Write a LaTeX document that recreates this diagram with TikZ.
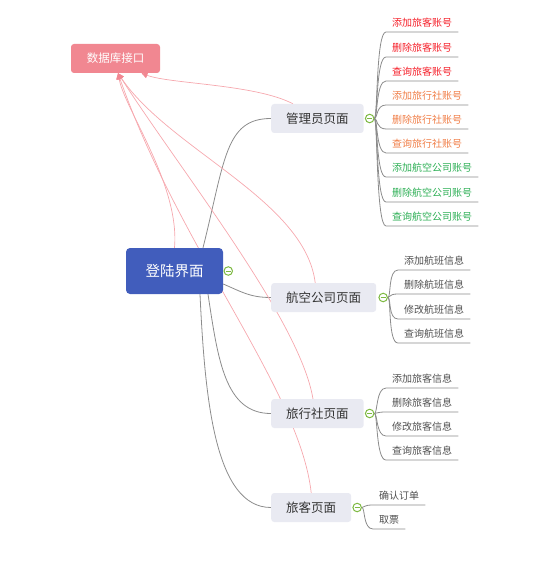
\documentclass[tikz,border=0pt]{standalone}
\usepackage{fontspec}
\setmainfont{Noto Sans CJK SC}
\usetikzlibrary{calc,positioning,backgrounds,arrows.meta}
\definecolor{dbpink}{RGB}{241,135,145}
\definecolor{linkpink}{RGB}{246,168,174}
\definecolor{rootblue}{RGB}{65,93,188}
\definecolor{pagefill}{RGB}{233,234,242}
\definecolor{pagetext}{RGB}{51,51,51}
\definecolor{leaftext}{RGB}{80,80,80}
\definecolor{branchgray}{RGB}{140,140,140}
\definecolor{hubgreen}{RGB}{125,185,65}
\definecolor{acctred}{RGB}{245,30,40}
\definecolor{acctorange}{RGB}{240,125,70}
\definecolor{acctgreen}{RGB}{45,175,85}

\tikzset{
	rootbox/.style={fill=rootblue, rounded corners=4pt, minimum width=97pt, minimum height=46pt, text=white, font=\fontsize{14.5}{16}\selectfont},
	dbbox/.style={fill=dbpink, rounded corners=3pt, minimum width=89pt, minimum height=29pt, text=white, font=\fontsize{11.5}{13}\selectfont},
	pagebox/.style={fill=pagefill, rounded corners=3pt, minimum height=29pt, inner xsep=15pt, anchor=west, text=pagetext, font=\fontsize{12.5}{14}\selectfont},
	leaf/.style={anchor=south west, inner xsep=6pt, inner ysep=4.5pt, text=leaftext, font=\fontsize{10}{12}\selectfont},
	hub/.style={circle, draw=hubgreen, fill=white, line width=1pt, minimum size=8.5pt, inner sep=0pt,
		path picture={\draw[hubgreen, line width=1pt] ([xshift=-2.6pt]path picture bounding box.center) -- ([xshift=2.6pt]path picture bounding box.center);}},
	branch/.style={draw=branchgray, line width=0.8pt},
	dblink/.style={draw=linkpink, line width=0.7pt, -{Triangle[width=6pt,length=6pt,color=dbpink]}}
}

\begin{document}
\begin{tikzpicture}[x=1pt, y=-1pt]
	\useasboundingbox (0,0) rectangle (554,564);
	
	%%%%% NODES %%%%%
	\node[dbbox] (db) at (115.5, 58.5) {数据库接口};
	\node[rootbox] (root) at (174.5, 271) {登陆界面};
	\node[hub, right=0.3pt of root] (hR) {};
	
	\node[pagebox] (admin) at (271, 118.5) {管理员页面};
	\node[pagebox] (airline) at (271, 297.5) {航空公司页面};
	\node[pagebox] (agency) at (271, 413.5) {旅行社页面};
	\node[pagebox] (passenger) at (271, 507.5) {旅客页面};
	
	\node[hub, right=1pt of admin] (hA) {};
	\node[hub, right=2pt of airline] (hB) {};
	\node[hub, right=1pt of agency] (hC) {};
	\node[hub, right=1pt of passenger] (hD) {};
	
	% admin leaves
	\node[leaf, text=acctred] (a1) at (386, 32) {添加旅客账号};
	\node[leaf, text=acctred] (a2) at (386, 57) {删除旅客账号};
	\node[leaf, text=acctred] (a3) at (386, 81) {查询旅客账号};
	\node[leaf, text=acctorange] (a4) at (386, 105) {添加旅行社账号};
	\node[leaf, text=acctorange] (a5) at (386, 129) {删除旅行社账号};
	\node[leaf, text=acctorange] (a6) at (386, 153) {查询旅行社账号};
	\node[leaf, text=acctgreen] (a7) at (386, 177) {添加航空公司账号};
	\node[leaf, text=acctgreen] (a8) at (386, 202) {删除航空公司账号};
	\node[leaf, text=acctgreen] (a9) at (386, 226) {查询航空公司账号};
	
	% airline leaves
	\node[leaf] (b1) at (398, 270) {添加航班信息};
	\node[leaf] (b2) at (398, 294) {删除航班信息};
	\node[leaf] (b3) at (398, 319) {修改航班信息};
	\node[leaf] (b4) at (398, 343) {查询航班信息};
	
	% agency leaves
	\node[leaf] (c1) at (386, 388) {添加旅客信息};
	\node[leaf] (c2) at (386, 412) {删除旅客信息};
	\node[leaf] (c3) at (386, 436) {修改旅客信息};
	\node[leaf] (c4) at (386, 460) {查询旅客信息};
	
	% passenger leaves
	\node[leaf] (d1) at (373, 505) {确认订单};
	\node[leaf] (d2) at (373, 529) {取票};
	
	%%%%% CONNECTORS %%%%%
	\begin{scope}[on background layer]
		\draw[branch] ($(root.north)+(28.5,0)$) .. controls (225, 160) and (225, 118.5) .. (admin.west);
		\draw[branch] ($(root.east)+(0,13)$) .. controls (242, 292) and (250, 297.5) .. (airline.west);
		\draw[branch] ($(root.south)+(33.5,0)$) .. controls (218, 360) and (225, 413.5) .. (agency.west);
		\draw[branch] ($(root.south)+(25.5,0)$) .. controls (205, 400) and (215, 507.5) .. (passenger.west);
		
		\foreach \lf in {a1,a2,a3,a4,a5,a6,a7,a8,a9}
			\draw[branch] (hA) .. controls +(8,0) and +(-10,0) .. (\lf.south west) -- (\lf.south east);
		\foreach \lf in {b1,b2,b3,b4}
			\draw[branch] (hB) .. controls +(8,0) and +(-10,0) .. (\lf.south west) -- (\lf.south east);
		\foreach \lf in {c1,c2,c3,c4}
			\draw[branch] (hC) .. controls +(8,0) and +(-10,0) .. (\lf.south west) -- (\lf.south east);
		\foreach \lf in {d1,d2}
			\draw[branch] (hD) .. controls +(8,0) and +(-10,0) .. (\lf.south west) -- (\lf.south east);
		
		\draw[dblink] ($(admin.north)+(-24.5,0)$) .. controls (255, 84) and (170, 84) .. ([xshift=26pt]db.south);
		\draw[dblink] (root.north) .. controls (180, 185) and (125, 110) .. ([xshift=2.5pt]db.south);
		\draw[dblink] ($(airline.north)+(-8.5,0)$) .. controls (305, 200) and (170, 150) .. ([xshift=2.5pt]db.south);
		\draw[dblink] ($(agency.north)+(-4.5,0)$) .. controls (300, 320) and (180, 170) .. ([xshift=2.5pt]db.south);
		\draw[dblink] (passenger.north) .. controls (300, 390) and (180, 250) .. ([xshift=2.5pt]db.south);
	\end{scope}
\end{tikzpicture}
\end{document}
